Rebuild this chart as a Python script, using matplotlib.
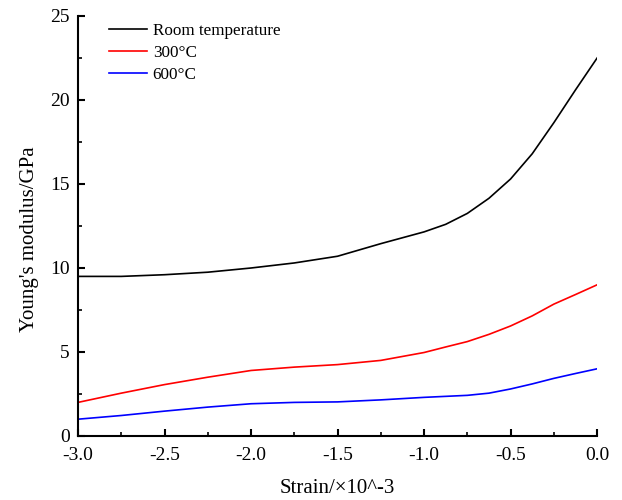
import matplotlib
matplotlib.use('Agg')
from matplotlib import pyplot as plt
from matplotlib.ticker import MultipleLocator, FormatStrFormatter

plt.rcParams['font.family'] = ['Liberation Serif', 'DejaVu Serif']

strain = [-3.0, -2.75, -2.5, -2.25, -2.0, -1.75, -1.5, -1.25, -1.0, -0.875, -0.75,
          -0.625, -0.5, -0.375, -0.25, -0.125, 0.0]
room = [9.5, 9.5, 9.6, 9.75, 10.0, 10.3, 10.7, 11.45, 12.15, 12.6, 13.25,
        14.15, 15.3, 16.8, 18.65, 20.6, 22.5]
t300 = [2.0, 2.55, 3.06, 3.5, 3.9, 4.1, 4.25, 4.5, 4.97, 5.3, 5.62,
        6.05, 6.55, 7.15, 7.85, 8.42, 9.0]
t600 = [1.0, 1.22, 1.48, 1.72, 1.92, 2.0, 2.03, 2.15, 2.3, 2.36, 2.42,
        2.55, 2.8, 3.1, 3.43, 3.72, 4.0]

fig = plt.figure(figsize=(6.22, 5.0), dpi=100)
ax = fig.add_axes([0.1254, 0.128, 0.8346, 0.84])

ax.plot(strain, room, color='black', lw=1.2, label='Room temperature')
ax.plot(strain, t300, color='red', lw=1.2, label='300\u00b0C')
ax.plot(strain, t600, color='blue', lw=1.2, label='600\u00b0C')

ax.set_xlim(-3.0, 0.0)
ax.set_ylim(0, 25)
ax.xaxis.set_major_locator(MultipleLocator(0.5))
ax.xaxis.set_minor_locator(MultipleLocator(0.25))
ax.yaxis.set_major_locator(MultipleLocator(5))
ax.yaxis.set_minor_locator(MultipleLocator(2.5))
ax.xaxis.set_major_formatter(FormatStrFormatter('%.1f'))

ax.spines['top'].set_visible(False)
ax.spines['right'].set_visible(False)
ax.spines['left'].set_linewidth(1.5)
ax.spines['bottom'].set_linewidth(1.5)
ax.tick_params(which='major', direction='in', length=5, width=1.5, labelsize=14)
ax.tick_params(axis='x', which='major', pad=8)
ax.tick_params(axis='y', which='major', pad=6)
ax.tick_params(which='minor', direction='in', length=3, width=1.2)

ax.set_xlabel('Strain/\u00d710^-3', fontsize=15, labelpad=11)
ax.set_ylabel("Young's modulus/GPa", fontsize=15)
ax.yaxis.set_label_coords(-0.076, 0.469)

ax.legend(loc='upper left', frameon=False, fontsize=12.3, handlelength=2.2,
          handletextpad=0.35, labelspacing=0.35, borderpad=0, borderaxespad=0,
          bbox_to_anchor=(0.06, 0.983))

fig.savefig('out.png', dpi=100)
